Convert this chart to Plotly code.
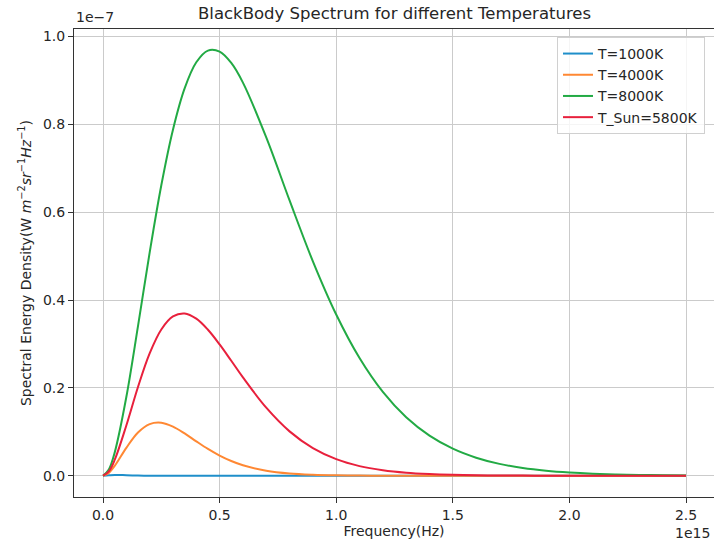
import plotly.graph_objects as go

# Frequency grid (units of 1e15 Hz)
freq = [0.0, 0.025, 0.05, 0.1, 0.15, 0.2, 0.25, 0.3, 0.35, 0.4, 0.45, 0.5, 0.55, 0.6,
        0.7, 0.8, 0.9, 1.0, 1.1, 1.2, 1.3, 1.4, 1.5, 1.6, 1.7, 1.8, 1.9, 2.0,
        2.1, 2.2, 2.3, 2.4, 2.5]

# Spectral energy density (units of 1e-7 W m^-2 sr^-1 Hz^-1)
t1000 = [0.0, 0.0010, 0.0018, 0.0012, 0.0004, 0.0001, 0.0, 0.0, 0.0, 0.0, 0.0, 0.0, 0.0, 0.0,
         0.0, 0.0, 0.0, 0.0, 0.0, 0.0, 0.0, 0.0, 0.0, 0.0, 0.0, 0.0, 0.0, 0.0,
         0.0, 0.0, 0.0, 0.0, 0.0]
t4000 = [0.0, 0.0066, 0.0224, 0.0635, 0.0985, 0.1176, 0.1207, 0.1119, 0.0963, 0.0783, 0.0610,
         0.0459, 0.0335, 0.0238,
         0.0114, 0.0051, 0.0022, 0.0009, 0.0004, 0.0001, 0.0001, 0.0, 0.0, 0.0, 0.0, 0.0, 0.0,
         0.0, 0.0, 0.0, 0.0, 0.0, 0.0]
t8000 = [0.0, 0.0142, 0.0526, 0.1792, 0.3407, 0.5080, 0.6613, 0.7879, 0.8818, 0.9412, 0.9678,
         0.9655, 0.9397, 0.8949,
         0.7702, 0.6267, 0.4881, 0.3670, 0.2679, 0.1908, 0.1331, 0.0913, 0.0616, 0.0411, 0.0270,
         0.0176, 0.0114, 0.0073, 0.0046, 0.0029, 0.0018, 0.0011, 0.0007]
t_sun = [0.0, 0.0100, 0.0359, 0.1144, 0.2021, 0.2785, 0.3330, 0.3627, 0.3694, 0.3576, 0.3324,
         0.2990, 0.2617, 0.2239,
         0.1549, 0.1010, 0.0628, 0.0377, 0.0219, 0.0125, 0.0069, 0.0038, 0.0020, 0.0011, 0.0006,
         0.0003, 0.0002, 0.0001, 0.0, 0.0, 0.0, 0.0, 0.0]

names = ["T=1000K", "T=4000K", "T=8000K", "T_Sun=5800K"]
colors = ["#1f8fca", "#ff8833", "#22aa44", "#e8203c"]
series = [t1000, t4000, t8000, t_sun]

x_ticks = [0.0, 0.5, 1.0, 1.5, 2.0, 2.5]
y_ticks = [0.0, 0.2, 0.4, 0.6, 0.8, 1.0]

FONT = "DejaVu Sans"

fig = go.Figure()
for name, col, ys in zip(names, colors, series):
    fig.add_trace(go.Scatter(
        x=freq, y=ys, mode="lines", name=name,
        line=dict(color=col, width=2, shape="spline", smoothing=1.0),
    ))

axis_common = dict(
    showgrid=True, gridcolor="#cbcbcb", gridwidth=1,
    zeroline=False, showline=True, linecolor="#333333", linewidth=1,
    ticks="outside", ticklen=5, tickcolor="#333333", tickwidth=1,
    tickfont=dict(family=FONT, size=14, color="#262626"),
)

fig.update_layout(
    width=714, height=541,
    margin=dict(l=74, r=0, t=29, b=44),
    paper_bgcolor="white", plot_bgcolor="white",
    font=dict(family=FONT, color="#262626"),
    showlegend=True,
    legend=dict(
        x=(557 - 74) / 640, y=0.983, xanchor="left", yanchor="top",
        bgcolor="rgba(255,255,255,0.8)", bordercolor="#d0d0d0", borderwidth=1,
        font=dict(family=FONT, size=14, color="#262626"),
        itemwidth=30, tracegroupgap=0,
    ),
    xaxis=dict(
        range=[-0.1244, 2.620], tickvals=x_ticks,
        ticktext=[f"{v:.1f}" for v in x_ticks], mirror=True,
        title=dict(text="Frequency(Hz)", font=dict(family=FONT, size=14, color="#262626"), standoff=2),
        **axis_common,
    ),
    yaxis=dict(
        range=[-0.0484, 1.017], tickvals=y_ticks,
        ticktext=[f"{v:.1f}" for v in y_ticks], mirror=False,
        title=dict(
            text="Spectral Energy Density(W <i>m</i><sup>−2</sup><i>sr</i><sup>−1</sup><i>Hz</i><sup>−1</sup>)",
            font=dict(family=FONT, size=14, color="#262626"), standoff=8,
        ),
        **axis_common,
    ),
    annotations=[
        dict(text="BlackBody Spectrum for different Temperatures", xref="paper", yref="paper",
             x=0.5, y=1.0, yshift=4, xanchor="center", yanchor="bottom", showarrow=False,
             font=dict(family=FONT, size=16.5, color="#262626")),
        dict(text="1e−7", xref="paper", yref="paper", x=0.0, y=1.0, yshift=2,
             xanchor="left", yanchor="bottom", showarrow=False,
             font=dict(family=FONT, size=14, color="#262626")),
        dict(text="1e15", xref="paper", yref="paper", x=(712 - 74) / 640, y=0.0, yshift=-26,
             xanchor="right", yanchor="top", showarrow=False,
             font=dict(family=FONT, size=14, color="#262626")),
    ],
)

fig.write_html("out.html")
